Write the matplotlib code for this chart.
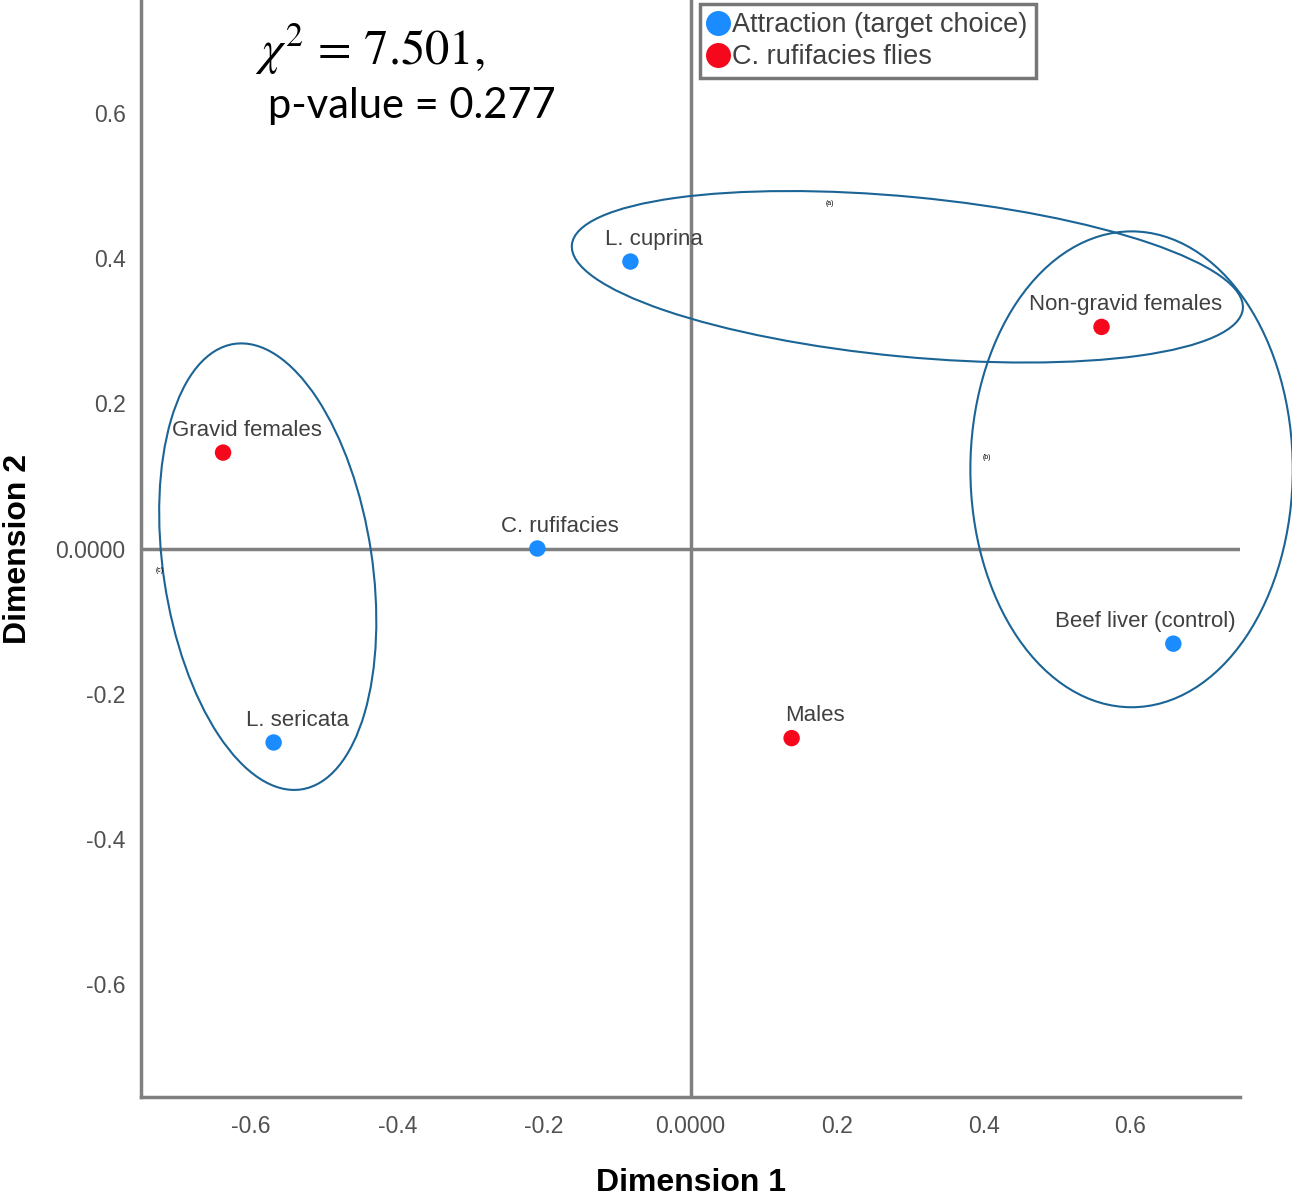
import matplotlib
matplotlib.use("Agg")
import matplotlib.pyplot as plt
from matplotlib.patches import Ellipse
from matplotlib.lines import Line2D

plt.rcParams['font.family'] = ['Liberation Sans', 'DejaVu Sans']
plt.rcParams['mathtext.fontset'] = 'stix'

# correspondence analysis points
labels = ["L. cuprina", "Non-gravid females", "Gravid females", "C. rufifacies",
          "Beef liver (control)", "L. sericata", "Males"]
dim1 = [-0.082, 0.561, -0.638, -0.209, 0.659, -0.569, 0.138]
dim2 = [0.395, 0.305, 0.132, 0.0, -0.131, -0.267, -0.261]
group = ["target", "flies", "flies", "target", "target", "target", "flies"]

group_names = {"target": "Attraction (target choice)", "flies": "C. rufifacies flies"}
group_colors = {"target": "#1a8cff", "flies": "#f5081c"}

# cluster ellipses: center, width, height, angle, tag
ell_names = ["(a)", "(b)", "(c)"]
ell_center = [(0.296, 0.374), (0.602, 0.109), (-0.577, -0.025)]
ell_width = [0.92, 0.44, 0.62]
ell_height = [0.22, 0.655, 0.285]
ell_angle = [-5.5, 0, 98.5]
ell_tag_pos = [(0.19, 0.475), (0.405, 0.125), (-0.725, -0.03)]

ticks = [-0.6, -0.4, -0.2, 0.0, 0.2, 0.4, 0.6]
tick_labels = ["-0.6", "-0.4", "-0.2", "0.0000", "0.2", "0.4", "0.6"]

fig = plt.figure(figsize=(12.92, 11.96), dpi=100)
ax = fig.add_axes([141 / 1292, 99 / 1196, 1099 / 1292, 1097 / 1196])
ax.set_xlim(-0.75, 0.75)
ax.set_ylim(-0.755, 0.755)

gray = "#808080"
ax.axhline(0, color=gray, lw=2.5, zorder=1)
ax.axvline(0, color=gray, lw=2.5, zorder=1)
for s in ["top", "right"]:
    ax.spines[s].set_visible(False)
for s in ["left", "bottom"]:
    ax.spines[s].set_color(gray)
    ax.spines[s].set_linewidth(2.5)

ax.set_xticks(ticks, tick_labels)
ax.set_yticks(ticks, tick_labels)
ax.tick_params(length=0, labelsize=16.5, labelcolor="#505050")
ax.tick_params(axis="x", pad=13)
ax.tick_params(axis="y", pad=11)

ax.set_xlabel("Dimension 1", fontsize=23, fontweight="bold")
ax.set_ylabel("Dimension 2", fontsize=23, fontweight="bold")
ax.xaxis.set_label_coords(0.5, -(1183 - 1097) / 1097)
ax.xaxis.label.set_va("center")
ax.yaxis.set_label_coords((18 - 141) / 1099, (1097 - 549) / 1097)
ax.yaxis.label.set_va("center")

for x, y, g in zip(dim1, dim2, group):
    ax.scatter(x, y, s=140, color=group_colors[g], edgecolors="none", zorder=3)

# label offsets in points (beef liver label sits left so it stays inside)
label_dx = [17, 17, 17, 16, -20, 17, 17]
for lab, x, y, dx in zip(labels, dim1, dim2, label_dx):
    ax.annotate(lab, (x, y), xytext=(dx, 12), textcoords="offset points",
                ha="center", va="baseline", fontsize=16, color="#404040")

for c, w, h, a in zip(ell_center, ell_width, ell_height, ell_angle):
    ax.add_patch(Ellipse(c, w, h, angle=a, fill=False, edgecolor="#1b6496",
                         lw=1.5, clip_on=False, zorder=2))
for tag, (tx, ty) in zip(ell_names, ell_tag_pos):
    ax.text(tx, ty, tag, fontsize=5, ha="center", va="center")

fig.text(255 / 1292, 1 - 65 / 1196, r"$\chi^2\, =\, 7.501,$", fontsize=35,
         ha="left", va="baseline")
fig.text(268 / 1292, 1 - 118 / 1196, "p-value = 0.277", fontsize=30,
         family=["Lato", "DejaVu Sans"], ha="left", va="baseline")

handles = [Line2D([], [], marker="o", ls="none", markersize=18,
                  markerfacecolor=group_colors[k], markeredgecolor="none")
           for k in ["target", "flies"]]
leg = ax.legend(handles, [group_names["target"], group_names["flies"]],
                loc="upper left", bbox_to_anchor=(700 / 1292, 1 - 4 / 1196),
                bbox_transform=fig.transFigure, borderaxespad=0,
                fancybox=False, framealpha=1, edgecolor="#777777",
                fontsize=19.5, handlelength=0.7, handletextpad=0.2,
                borderpad=0.3, labelspacing=0.22)
leg.get_frame().set_linewidth(2.5)
for t in leg.get_texts():
    t.set_color("#404040")

fig.savefig("out.png", dpi=100)
